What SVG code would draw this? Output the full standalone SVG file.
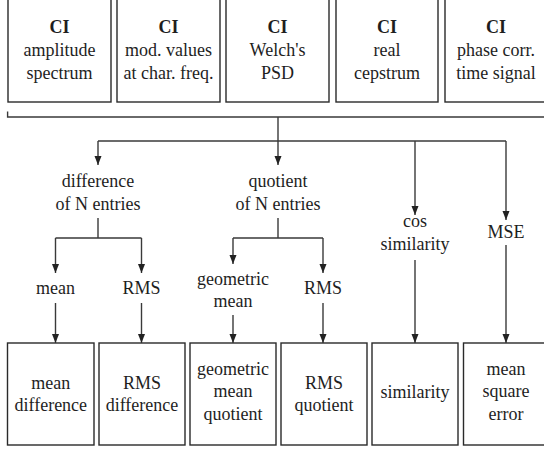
<svg xmlns="http://www.w3.org/2000/svg" width="544" height="450" viewBox="0 0 544 450">
  <defs>
    <marker id="arrow" markerUnits="userSpaceOnUse" markerWidth="10" markerHeight="8" refX="9" refY="3.5" orient="auto">
      <path d="M0,0 L9,3.5 L0,7 z" fill="#222"/>
    </marker>
    <style>
      .box { fill: #fff; stroke: #2a2a2a; stroke-width: 1.4; }
      .wire { fill: none; stroke: #3a3a3a; stroke-width: 1.4; }
    </style>
  </defs>
  <rect width="544" height="450" fill="#fff"/>

  <!-- top row: CI sources -->
  <g id="ci-amplitude">
    <rect class="box" x="8" y="-5" width="103" height="107"/>
    <text x="59.5" y="33" font-family="Liberation Serif" font-size="18" font-weight="bold" text-anchor="middle" fill="#1e1e1e">CI</text>
    <text x="59.5" y="56" font-family="Liberation Serif" font-size="18" text-anchor="middle" fill="#1e1e1e">amplitude</text>
    <text x="59.5" y="79" font-family="Liberation Serif" font-size="18" text-anchor="middle" fill="#1e1e1e">spectrum</text>
  </g>
  <g id="ci-modvalues">
    <rect class="box" x="117" y="-5" width="103" height="107"/>
    <text x="168.5" y="33" font-family="Liberation Serif" font-size="18" font-weight="bold" text-anchor="middle" fill="#1e1e1e">CI</text>
    <text x="168.5" y="56" font-family="Liberation Serif" font-size="18" text-anchor="middle" fill="#1e1e1e">mod. values</text>
    <text x="168.5" y="79" font-family="Liberation Serif" font-size="18" text-anchor="middle" fill="#1e1e1e">at char. freq.</text>
  </g>
  <g id="ci-welch">
    <rect class="box" x="226" y="-5" width="103" height="107"/>
    <text x="277.5" y="33" font-family="Liberation Serif" font-size="18" font-weight="bold" text-anchor="middle" fill="#1e1e1e">CI</text>
    <text x="277.5" y="56" font-family="Liberation Serif" font-size="18" text-anchor="middle" fill="#1e1e1e">Welch's</text>
    <text x="277.5" y="79" font-family="Liberation Serif" font-size="18" text-anchor="middle" fill="#1e1e1e">PSD</text>
  </g>
  <g id="ci-cepstrum">
    <rect class="box" x="336" y="-5" width="102" height="107"/>
    <text x="387" y="33" font-family="Liberation Serif" font-size="18" font-weight="bold" text-anchor="middle" fill="#1e1e1e">CI</text>
    <text x="387" y="56" font-family="Liberation Serif" font-size="18" text-anchor="middle" fill="#1e1e1e">real</text>
    <text x="387" y="79" font-family="Liberation Serif" font-size="18" text-anchor="middle" fill="#1e1e1e">cepstrum</text>
  </g>
  <g id="ci-phase">
    <rect class="box" x="445" y="-5" width="103" height="107"/>
    <text x="496" y="33" font-family="Liberation Serif" font-size="18" font-weight="bold" text-anchor="middle" fill="#1e1e1e">CI</text>
    <text x="496" y="56" font-family="Liberation Serif" font-size="18" text-anchor="middle" fill="#1e1e1e">phase corr.</text>
    <text x="496" y="79" font-family="Liberation Serif" font-size="18" text-anchor="middle" fill="#1e1e1e">time signal</text>
  </g>

  <!-- intermediate labels -->
  <g id="difference">
    <text x="98" y="187" font-family="Liberation Serif" font-size="18" text-anchor="middle" fill="#1e1e1e">difference</text>
    <text x="98" y="210" font-family="Liberation Serif" font-size="18" text-anchor="middle" fill="#1e1e1e">of N entries</text>
  </g>
  <g id="quotient">
    <text x="278" y="187" font-family="Liberation Serif" font-size="18" text-anchor="middle" fill="#1e1e1e">quotient</text>
    <text x="278" y="210" font-family="Liberation Serif" font-size="18" text-anchor="middle" fill="#1e1e1e">of N entries</text>
  </g>
  <g id="cos-similarity">
    <text x="415" y="227" font-family="Liberation Serif" font-size="18" text-anchor="middle" fill="#1e1e1e">cos</text>
    <text x="415" y="250" font-family="Liberation Serif" font-size="18" text-anchor="middle" fill="#1e1e1e">similarity</text>
  </g>
  <g id="mse">
    <text x="506" y="238" font-family="Liberation Serif" font-size="18" text-anchor="middle" fill="#1e1e1e">MSE</text>
  </g>
  <g id="diff-mean">
    <text x="55.5" y="294" font-family="Liberation Serif" font-size="18" text-anchor="middle" fill="#1e1e1e">mean</text>
  </g>
  <g id="diff-rms">
    <text x="141.5" y="294" font-family="Liberation Serif" font-size="18" text-anchor="middle" fill="#1e1e1e">RMS</text>
  </g>
  <g id="quot-geomean">
    <text x="233" y="285" font-family="Liberation Serif" font-size="18" text-anchor="middle" fill="#1e1e1e">geometric</text>
    <text x="233" y="307" font-family="Liberation Serif" font-size="18" text-anchor="middle" fill="#1e1e1e">mean</text>
  </g>
  <g id="quot-rms">
    <text x="323" y="294" font-family="Liberation Serif" font-size="18" text-anchor="middle" fill="#1e1e1e">RMS</text>
  </g>

  <!-- bottom row: resulting measures -->
  <g id="mean-difference">
    <rect class="box" x="7.5" y="343" width="86.5" height="102"/>
    <text x="50.8" y="389" font-family="Liberation Serif" font-size="18" text-anchor="middle" fill="#1e1e1e">mean</text>
    <text x="50.8" y="411" font-family="Liberation Serif" font-size="18" text-anchor="middle" fill="#1e1e1e">difference</text>
  </g>
  <g id="rms-difference">
    <rect class="box" x="99" y="343" width="86" height="102"/>
    <text x="142" y="389" font-family="Liberation Serif" font-size="18" text-anchor="middle" fill="#1e1e1e">RMS</text>
    <text x="142" y="411" font-family="Liberation Serif" font-size="18" text-anchor="middle" fill="#1e1e1e">difference</text>
  </g>
  <g id="geometric-mean-quotient">
    <rect class="box" x="190" y="343" width="86" height="102"/>
    <text x="233" y="375" font-family="Liberation Serif" font-size="18" text-anchor="middle" fill="#1e1e1e">geometric</text>
    <text x="233" y="397" font-family="Liberation Serif" font-size="18" text-anchor="middle" fill="#1e1e1e">mean</text>
    <text x="233" y="420" font-family="Liberation Serif" font-size="18" text-anchor="middle" fill="#1e1e1e">quotient</text>
  </g>
  <g id="rms-quotient">
    <rect class="box" x="281" y="343" width="86" height="102"/>
    <text x="324" y="389" font-family="Liberation Serif" font-size="18" text-anchor="middle" fill="#1e1e1e">RMS</text>
    <text x="324" y="411" font-family="Liberation Serif" font-size="18" text-anchor="middle" fill="#1e1e1e">quotient</text>
  </g>
  <g id="similarity">
    <rect class="box" x="372" y="343" width="86" height="102"/>
    <text x="415" y="398" font-family="Liberation Serif" font-size="18" text-anchor="middle" fill="#1e1e1e">similarity</text>
  </g>
  <g id="mean-square-error">
    <rect class="box" x="463.5" y="343" width="86" height="102"/>
    <text x="506" y="375" font-family="Liberation Serif" font-size="18" text-anchor="middle" fill="#1e1e1e">mean</text>
    <text x="506" y="397" font-family="Liberation Serif" font-size="18" text-anchor="middle" fill="#1e1e1e">square</text>
    <text x="506" y="420" font-family="Liberation Serif" font-size="18" text-anchor="middle" fill="#1e1e1e">error</text>
  </g>

  <!-- connectors -->
  <g id="connectors">
    <path class="wire" d="M7.6,111.5 V117 H544"/>
    <path class="wire" d="M98,141 H506"/>
    <path class="wire" d="M98,218 V238 M55.5,238 H141.5"/>
    <path class="wire" d="M278,218 V238 M233,238 H323"/>
    <g class="wire" marker-end="url(#arrow)">
      <path d="M278,117 V165"/>
      <path d="M98,141 V165"/>
      <path d="M415,141 V215"/>
      <path d="M506,141 V220"/>
      <path d="M55.5,238 V273"/>
      <path d="M141.5,238 V273"/>
      <path d="M233,238 V264"/>
      <path d="M323,238 V273"/>
      <path d="M55.5,303 V343"/>
      <path d="M141.5,303 V343"/>
      <path d="M233,315 V343"/>
      <path d="M323,303 V343"/>
      <path d="M415,260 V343"/>
      <path d="M506,245 V343"/>
    </g>
  </g>
</svg>
